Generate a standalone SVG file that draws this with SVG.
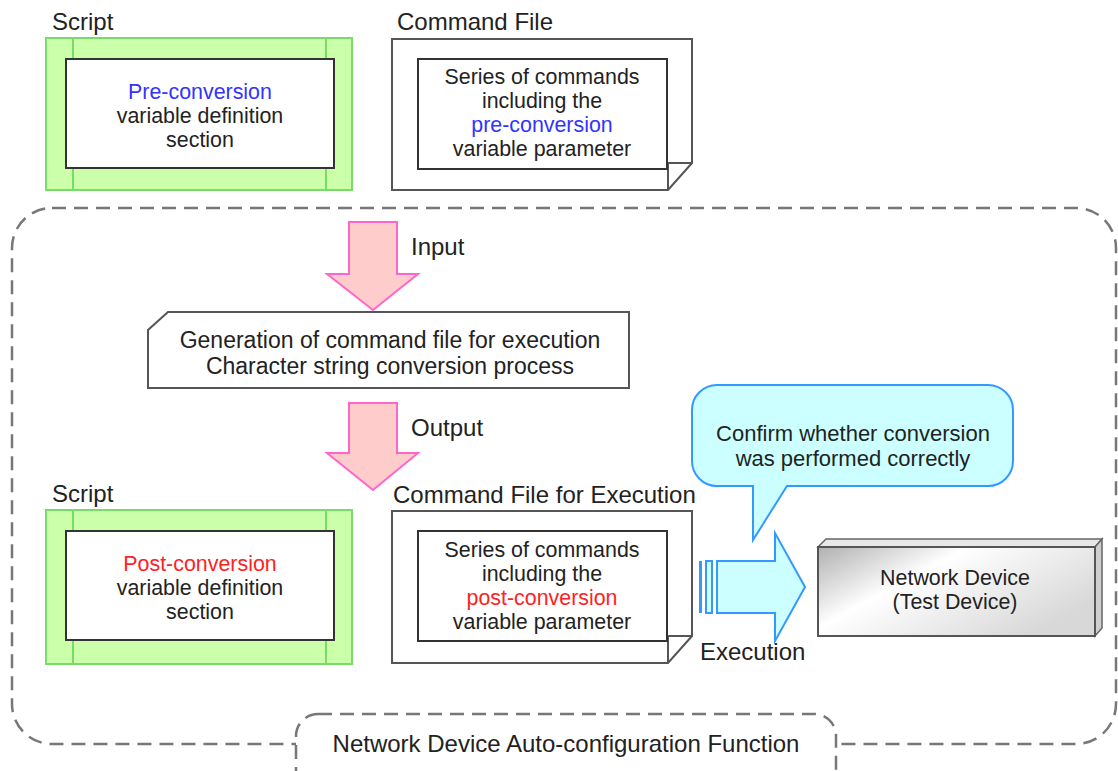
<svg xmlns="http://www.w3.org/2000/svg" width="1118" height="771" viewBox="0 0 1118 771">
<style>
text{font-family:"Liberation Sans",Arial,sans-serif;font-size:24px;fill:#222}
.m{font-size:21.4px}
.g{font-size:23px}
.k{font-size:22px}
.c{text-anchor:middle}
.blue{fill:#3333ff}
.red{fill:#ff2222}
.green{fill:#ccffaa;stroke:#77dd66;stroke-width:2}
.gline{stroke:#77dd66;stroke-width:2}
.box{fill:#fff;stroke:#333;stroke-width:2}
.file{fill:#fff;stroke:#555;stroke-width:2}
.dash{fill:none;stroke:#777;stroke-width:2.5;stroke-dasharray:14 8}
.pink{fill:#ffcccc;stroke:#ff66cc;stroke-width:2}
.cyan{fill:#ccffff;stroke:#3399ff;stroke-width:2}
</style>
<defs>
<linearGradient id="dev" x1="0" y1="0" x2="1" y2="0.6">
<stop offset="0" stop-color="#b0b0b0"/>
<stop offset="0.4" stop-color="#ffffff"/>
<stop offset="1" stop-color="#d8d8d8"/>
</linearGradient>
</defs>
<rect width="1118" height="771" fill="#fff"/>

<g id="frame">
<path class="dash" d="M52,208 H1076 A40,40 0 0 1 1116,248 V704 A40,40 0 0 1 1076,744 H52 A40,40 0 0 1 12,704 V248 A40,40 0 0 1 52,208 Z"/>
</g>

<g id="script-pre">
<text x="52" y="30">Script</text>
<rect class="green" x="46" y="38" width="306" height="152"/>
<line class="gline" x1="73" y1="38" x2="73" y2="190"/>
<line class="gline" x1="326" y1="38" x2="326" y2="190"/>
<rect class="box" x="66" y="59" width="268" height="109"/>
<text class="m c blue" x="200" y="99">Pre-conversion</text>
<text class="m c" x="200" y="123">variable definition</text>
<text class="m c" x="200" y="147">section</text>
</g>

<g id="cmdfile-pre">
<text x="397" y="30">Command File</text>
<path class="file" d="M392,39 H692 V163 L668,190 H392 Z"/>
<path fill="none" stroke="#555" stroke-width="2" d="M692,163 H668 V190"/>
<rect class="box" x="418" y="59" width="249" height="110"/>
<text class="m c" x="542" y="84">Series of commands</text>
<text class="m c" x="542" y="108">including the</text>
<text class="m c blue" x="542" y="132">pre-conversion</text>
<text class="m c" x="542" y="156">variable parameter</text>
</g>

<g id="input-arrow">
<path class="pink" d="M349,222 H397 V274 H418 L373,310 L327,274 H349 Z"/>
<text x="411" y="255">Input</text>
</g>

<g id="generation">
<path class="file" d="M168,312 H629 V388 H148 V330 Z"/>
<text class="g c" x="390" y="348">Generation of command file for execution</text>
<text class="g c" x="390" y="374">Character string conversion process</text>
</g>

<g id="output-arrow">
<path class="pink" d="M349,403 H397 V453 H418 L373,490 L327,453 H349 Z"/>
<text x="411" y="436">Output</text>
</g>

<g id="script-post">
<text x="52" y="502">Script</text>
<rect class="green" x="46" y="510" width="306" height="154"/>
<line class="gline" x1="73" y1="510" x2="73" y2="664"/>
<line class="gline" x1="326" y1="510" x2="326" y2="664"/>
<rect class="box" x="66" y="531" width="268" height="109"/>
<text class="m c red" x="200" y="571">Post-conversion</text>
<text class="m c" x="200" y="595">variable definition</text>
<text class="m c" x="200" y="619">section</text>
</g>

<g id="cmdfile-exec">
<text x="393" y="503">Command File for Execution</text>
<path class="file" d="M392,511 H692 V636 L668,663 H392 Z"/>
<path fill="none" stroke="#555" stroke-width="2" d="M692,636 H668 V663"/>
<rect class="box" x="418" y="531" width="249" height="110"/>
<text class="m c" x="542" y="557">Series of commands</text>
<text class="m c" x="542" y="581">including the</text>
<text class="m c red" x="542" y="605">post-conversion</text>
<text class="m c" x="542" y="629">variable parameter</text>
</g>

<g id="callout">
<path class="cyan" d="M717,385 H988 A25,25 0 0 1 1013,410 V461 A25,25 0 0 1 988,486 H787 L753,540 L753,486 H717 A25,25 0 0 1 692,461 V410 A25,25 0 0 1 717,385 Z"/>
<text class="k c" x="853" y="441">Confirm whether conversion</text>
<text class="k c" x="853" y="466">was performed correctly</text>
</g>

<g id="connectors">
<g id="execution-arrow">
<rect x="699" y="561" width="3" height="52" fill="#3399ff"/>
<rect class="cyan" x="706" y="561" width="6" height="52"/>
<path class="cyan" d="M717,561 H775 V533 L805,587 L775,641 V613 H717 Z"/>
<text x="700" y="660">Execution</text>
</g>
</g>

<g id="network-device">
<path fill="#e8e8e8" stroke="#666" stroke-width="1.5" d="M818,547 L826,539 H1102 L1095,547 Z"/>
<path fill="#cfcfcf" stroke="#666" stroke-width="1.5" d="M1095,547 L1102,539 V628 L1095,636 Z"/>
<rect x="818" y="547" width="277" height="89" fill="url(#dev)" stroke="#555" stroke-width="2"/>
<text class="m c" x="955" y="585">Network Device</text>
<text class="m c" x="955" y="609">(Test Device)</text>
</g>

<g id="function-label">
<rect x="296" y="714" width="540" height="80" rx="22" fill="#fff" stroke="#777" stroke-width="2.5" stroke-dasharray="14 8"/>
<text class="c" x="566" y="752">Network Device Auto-configuration Function</text>
</g>
</svg>
